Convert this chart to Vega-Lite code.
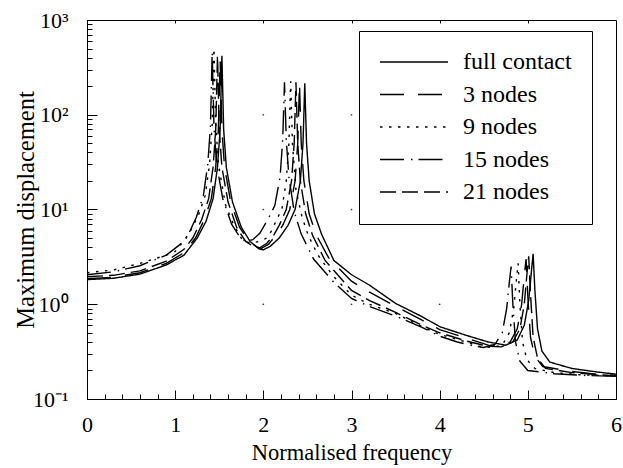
{
  "$schema": "https://vega.github.io/schema/vega-lite/v6.json",
  "width": 529,
  "height": 379,
  "autosize": {"type": "none"},
  "padding": {"left": 87, "top": 20, "right": 7, "bottom": 69},
  "background": "white",
  "config": {
    "view": {"stroke": "black", "strokeWidth": 1},
    "font": "Liberation Serif",
    "axis": {"labelFont": "Liberation Serif", "titleFont": "Liberation Serif", "labelColor": "black", "titleColor": "black", "domainColor": "black", "tickColor": "black", "titleFontWeight": "normal", "labelFontSize": 22, "titleFontSize": 22, "grid": false}
  },
  "datasets": {
    "curves": [
      {"series":"full contact","freq":0,"disp":1.82},{"series":"full contact","freq":0.3,"disp":1.88},{"series":"full contact","freq":0.6,"disp":2.08},{"series":"full contact","freq":0.9,"disp":2.6},{"series":"full contact","freq":1.1,"disp":3.3},{"series":"full contact","freq":1.25,"disp":5.0},{"series":"full contact","freq":1.35,"disp":7.5},{"series":"full contact","freq":1.43,"disp":13},{"series":"full contact","freq":1.48,"disp":28},{"series":"full contact","freq":1.51,"disp":70},{"series":"full contact","freq":1.53,"disp":420},{"series":"full contact","freq":1.55,"disp":70},{"series":"full contact","freq":1.58,"disp":28},{"series":"full contact","freq":1.65,"disp":12},{"series":"full contact","freq":1.75,"disp":6.5},{"series":"full contact","freq":1.85,"disp":4.6},{"series":"full contact","freq":1.95,"disp":3.85},{"series":"full contact","freq":2.0,"disp":3.75},{"series":"full contact","freq":2.08,"disp":4.1},{"series":"full contact","freq":2.18,"disp":5.0},{"series":"full contact","freq":2.28,"disp":6.8},{"series":"full contact","freq":2.36,"disp":10},{"series":"full contact","freq":2.42,"disp":20},{"series":"full contact","freq":2.45,"disp":50},{"series":"full contact","freq":2.47,"disp":215},{"series":"full contact","freq":2.49,"disp":50},{"series":"full contact","freq":2.52,"disp":20},{"series":"full contact","freq":2.58,"disp":9},{"series":"full contact","freq":2.66,"disp":5.5},{"series":"full contact","freq":2.8,"disp":2.9},{"series":"full contact","freq":3.0,"disp":2.05},{"series":"full contact","freq":3.2,"disp":1.6},{"series":"full contact","freq":3.5,"disp":1.02},{"series":"full contact","freq":3.8,"disp":0.74},{"series":"full contact","freq":4.0,"disp":0.58},{"series":"full contact","freq":4.3,"disp":0.47},{"series":"full contact","freq":4.55,"disp":0.4},{"series":"full contact","freq":4.75,"disp":0.37},{"series":"full contact","freq":4.88,"disp":0.42},{"series":"full contact","freq":4.96,"disp":0.6},{"series":"full contact","freq":5.01,"disp":1.1},{"series":"full contact","freq":5.04,"disp":2.2},{"series":"full contact","freq":5.06,"disp":3.4},{"series":"full contact","freq":5.08,"disp":1.4},{"series":"full contact","freq":5.11,"disp":0.55},{"series":"full contact","freq":5.16,"disp":0.32},{"series":"full contact","freq":5.25,"disp":0.245},{"series":"full contact","freq":5.5,"disp":0.21},{"series":"full contact","freq":5.8,"disp":0.192},{"series":"full contact","freq":6.0,"disp":0.183},

      {"series":"3 nodes","freq":0,"disp":1.86},{"series":"3 nodes","freq":0.3,"disp":1.93},{"series":"3 nodes","freq":0.6,"disp":2.15},{"series":"3 nodes","freq":0.9,"disp":2.7},{"series":"3 nodes","freq":1.1,"disp":3.5},{"series":"3 nodes","freq":1.23,"disp":5.0},{"series":"3 nodes","freq":1.33,"disp":7.8},{"series":"3 nodes","freq":1.41,"disp":13},{"series":"3 nodes","freq":1.46,"disp":28},{"series":"3 nodes","freq":1.49,"disp":70},{"series":"3 nodes","freq":1.51,"disp":380},{"series":"3 nodes","freq":1.53,"disp":70},{"series":"3 nodes","freq":1.56,"disp":28},{"series":"3 nodes","freq":1.63,"disp":12},{"series":"3 nodes","freq":1.73,"disp":6.5},{"series":"3 nodes","freq":1.83,"disp":4.7},{"series":"3 nodes","freq":1.93,"disp":4.0},{"series":"3 nodes","freq":1.98,"disp":3.9},{"series":"3 nodes","freq":2.06,"disp":4.3},{"series":"3 nodes","freq":2.14,"disp":5.3},{"series":"3 nodes","freq":2.22,"disp":6.8},{"series":"3 nodes","freq":2.3,"disp":10},{"series":"3 nodes","freq":2.36,"disp":20},{"series":"3 nodes","freq":2.39,"disp":50},{"series":"3 nodes","freq":2.41,"disp":215},{"series":"3 nodes","freq":2.43,"disp":50},{"series":"3 nodes","freq":2.46,"disp":20},{"series":"3 nodes","freq":2.52,"disp":9},{"series":"3 nodes","freq":2.6,"disp":5.4},{"series":"3 nodes","freq":2.74,"disp":3.1},{"series":"3 nodes","freq":3.0,"disp":1.75},{"series":"3 nodes","freq":3.2,"disp":1.35},{"series":"3 nodes","freq":3.5,"disp":0.95},{"series":"3 nodes","freq":3.8,"disp":0.68},{"series":"3 nodes","freq":4.0,"disp":0.54},{"series":"3 nodes","freq":4.3,"disp":0.44},{"series":"3 nodes","freq":4.55,"disp":0.37},{"series":"3 nodes","freq":4.67,"disp":0.36},{"series":"3 nodes","freq":4.8,"disp":0.4},{"series":"3 nodes","freq":4.88,"disp":0.55},{"series":"3 nodes","freq":4.93,"disp":1.0},{"series":"3 nodes","freq":4.96,"disp":2.0},{"series":"3 nodes","freq":4.98,"disp":3.0},{"series":"3 nodes","freq":5.0,"disp":1.2},{"series":"3 nodes","freq":5.03,"disp":0.45},{"series":"3 nodes","freq":5.08,"disp":0.28},{"series":"3 nodes","freq":5.17,"disp":0.22},{"series":"3 nodes","freq":5.5,"disp":0.195},{"series":"3 nodes","freq":5.8,"disp":0.182},{"series":"3 nodes","freq":6.0,"disp":0.178},

      {"series":"9 nodes","freq":0,"disp":2.15},{"series":"9 nodes","freq":0.3,"disp":2.3},{"series":"9 nodes","freq":0.6,"disp":2.7},{"series":"9 nodes","freq":0.9,"disp":3.3},{"series":"9 nodes","freq":1.0,"disp":3.6},{"series":"9 nodes","freq":1.16,"disp":5.6},{"series":"9 nodes","freq":1.26,"disp":8.5},{"series":"9 nodes","freq":1.34,"disp":14},{"series":"9 nodes","freq":1.39,"disp":30},{"series":"9 nodes","freq":1.42,"disp":80},{"series":"9 nodes","freq":1.44,"disp":500},{"series":"9 nodes","freq":1.46,"disp":80},{"series":"9 nodes","freq":1.49,"disp":30},{"series":"9 nodes","freq":1.57,"disp":11.3},{"series":"9 nodes","freq":1.66,"disp":7},{"series":"9 nodes","freq":1.76,"disp":4.8},{"series":"9 nodes","freq":1.85,"disp":4.4},{"series":"9 nodes","freq":1.95,"disp":4.6},{"series":"9 nodes","freq":2.04,"disp":5.0},{"series":"9 nodes","freq":2.1,"disp":6.1},{"series":"9 nodes","freq":2.15,"disp":7.8},{"series":"9 nodes","freq":2.21,"disp":10},{"series":"9 nodes","freq":2.26,"disp":20},{"series":"9 nodes","freq":2.29,"disp":50},{"series":"9 nodes","freq":2.31,"disp":225},{"series":"9 nodes","freq":2.33,"disp":50},{"series":"9 nodes","freq":2.37,"disp":16},{"series":"9 nodes","freq":2.44,"disp":8.3},{"series":"9 nodes","freq":2.51,"disp":5.3},{"series":"9 nodes","freq":2.62,"disp":3.3},{"series":"9 nodes","freq":2.7,"disp":2.6},{"series":"9 nodes","freq":2.8,"disp":1.95},{"series":"9 nodes","freq":3.0,"disp":1.25},{"series":"9 nodes","freq":3.2,"disp":1.0},{"series":"9 nodes","freq":3.5,"disp":0.8},{"series":"9 nodes","freq":3.8,"disp":0.58},{"series":"9 nodes","freq":4.0,"disp":0.48},{"series":"9 nodes","freq":4.3,"disp":0.4},{"series":"9 nodes","freq":4.45,"disp":0.36},{"series":"9 nodes","freq":4.58,"disp":0.35},{"series":"9 nodes","freq":4.71,"disp":0.37},{"series":"9 nodes","freq":4.79,"disp":0.5},{"series":"9 nodes","freq":4.84,"disp":0.9},{"series":"9 nodes","freq":4.87,"disp":1.8},{"series":"9 nodes","freq":4.89,"disp":2.7},{"series":"9 nodes","freq":4.91,"disp":1.0},{"series":"9 nodes","freq":4.94,"disp":0.4},{"series":"9 nodes","freq":4.99,"disp":0.26},{"series":"9 nodes","freq":5.08,"disp":0.21},{"series":"9 nodes","freq":5.3,"disp":0.19},{"series":"9 nodes","freq":5.6,"disp":0.18},{"series":"9 nodes","freq":6.0,"disp":0.175},

      {"series":"15 nodes","freq":0,"disp":2.05},{"series":"15 nodes","freq":0.3,"disp":2.2},{"series":"15 nodes","freq":0.6,"disp":2.55},{"series":"15 nodes","freq":0.9,"disp":3.3},{"series":"15 nodes","freq":1.1,"disp":4.6},{"series":"15 nodes","freq":1.14,"disp":5.2},{"series":"15 nodes","freq":1.24,"disp":8.3},{"series":"15 nodes","freq":1.32,"disp":14},{"series":"15 nodes","freq":1.37,"disp":30},{"series":"15 nodes","freq":1.4,"disp":75},{"series":"15 nodes","freq":1.42,"disp":460},{"series":"15 nodes","freq":1.44,"disp":75},{"series":"15 nodes","freq":1.47,"disp":30},{"series":"15 nodes","freq":1.54,"disp":13},{"series":"15 nodes","freq":1.64,"disp":7.0},{"series":"15 nodes","freq":1.74,"disp":5.0},{"series":"15 nodes","freq":1.8,"disp":4.6},{"series":"15 nodes","freq":1.88,"disp":4.8},{"series":"15 nodes","freq":1.96,"disp":5.6},{"series":"15 nodes","freq":2.05,"disp":7.8},{"series":"15 nodes","freq":2.13,"disp":11},{"series":"15 nodes","freq":2.19,"disp":22},{"series":"15 nodes","freq":2.22,"disp":55},{"series":"15 nodes","freq":2.24,"disp":220},{"series":"15 nodes","freq":2.26,"disp":55},{"series":"15 nodes","freq":2.29,"disp":22},{"series":"15 nodes","freq":2.35,"disp":9.5},{"series":"15 nodes","freq":2.43,"disp":5.5},{"series":"15 nodes","freq":2.57,"disp":3.0},{"series":"15 nodes","freq":2.8,"disp":1.7},{"series":"15 nodes","freq":3.0,"disp":1.15},{"series":"15 nodes","freq":3.2,"disp":0.95},{"series":"15 nodes","freq":3.5,"disp":0.75},{"series":"15 nodes","freq":3.8,"disp":0.57},{"series":"15 nodes","freq":4.0,"disp":0.46},{"series":"15 nodes","freq":4.2,"disp":0.4},{"series":"15 nodes","freq":4.4,"disp":0.36},{"series":"15 nodes","freq":4.5,"disp":0.35},{"series":"15 nodes","freq":4.63,"disp":0.38},{"series":"15 nodes","freq":4.71,"disp":0.5},{"series":"15 nodes","freq":4.76,"disp":0.9},{"series":"15 nodes","freq":4.79,"disp":1.7},{"series":"15 nodes","freq":4.81,"disp":2.5},{"series":"15 nodes","freq":4.83,"disp":1.0},{"series":"15 nodes","freq":4.86,"disp":0.4},{"series":"15 nodes","freq":4.91,"disp":0.25},{"series":"15 nodes","freq":5.0,"disp":0.2},{"series":"15 nodes","freq":5.3,"disp":0.185},{"series":"15 nodes","freq":5.6,"disp":0.178},{"series":"15 nodes","freq":6.0,"disp":0.173},

      {"series":"21 nodes","freq":0,"disp":1.95},{"series":"21 nodes","freq":0.3,"disp":2.02},{"series":"21 nodes","freq":0.6,"disp":2.25},{"series":"21 nodes","freq":0.9,"disp":2.85},{"series":"21 nodes","freq":1.1,"disp":3.8},{"series":"21 nodes","freq":1.2,"disp":5.0},{"series":"21 nodes","freq":1.3,"disp":7.8},{"series":"21 nodes","freq":1.38,"disp":13},{"series":"21 nodes","freq":1.43,"disp":28},{"series":"21 nodes","freq":1.46,"disp":70},{"series":"21 nodes","freq":1.48,"disp":420},{"series":"21 nodes","freq":1.5,"disp":70},{"series":"21 nodes","freq":1.53,"disp":28},{"series":"21 nodes","freq":1.6,"disp":12},{"series":"21 nodes","freq":1.7,"disp":6.4},{"series":"21 nodes","freq":1.8,"disp":4.6},{"series":"21 nodes","freq":1.9,"disp":4.0},{"series":"21 nodes","freq":1.96,"disp":3.95},{"series":"21 nodes","freq":2.04,"disp":4.4},{"series":"21 nodes","freq":2.12,"disp":5.4},{"series":"21 nodes","freq":2.18,"disp":6.8},{"series":"21 nodes","freq":2.26,"disp":10},{"series":"21 nodes","freq":2.32,"disp":20},{"series":"21 nodes","freq":2.35,"disp":50},{"series":"21 nodes","freq":2.37,"disp":220},{"series":"21 nodes","freq":2.39,"disp":50},{"series":"21 nodes","freq":2.42,"disp":20},{"series":"21 nodes","freq":2.48,"disp":9},{"series":"21 nodes","freq":2.56,"disp":5.3},{"series":"21 nodes","freq":2.7,"disp":2.9},{"series":"21 nodes","freq":3.0,"disp":1.4},{"series":"21 nodes","freq":3.2,"disp":1.1},{"series":"21 nodes","freq":3.5,"disp":0.82},{"series":"21 nodes","freq":3.8,"disp":0.6},{"series":"21 nodes","freq":4.0,"disp":0.5},{"series":"21 nodes","freq":4.3,"disp":0.41},{"series":"21 nodes","freq":4.55,"disp":0.36},{"series":"21 nodes","freq":4.7,"disp":0.355},{"series":"21 nodes","freq":4.83,"disp":0.4},{"series":"21 nodes","freq":4.91,"disp":0.55},{"series":"21 nodes","freq":4.96,"disp":1.0},{"series":"21 nodes","freq":4.99,"disp":2.1},{"series":"21 nodes","freq":5.01,"disp":3.2},{"series":"21 nodes","freq":5.03,"disp":1.3},{"series":"21 nodes","freq":5.06,"disp":0.45},{"series":"21 nodes","freq":5.11,"disp":0.27},{"series":"21 nodes","freq":5.2,"disp":0.21},{"series":"21 nodes","freq":5.5,"disp":0.19},{"series":"21 nodes","freq":5.8,"disp":0.18},{"series":"21 nodes","freq":6.0,"disp":0.176}
    ],
    "dots": [
      {"freq":2,"disp":1},{"freq":2,"disp":10},{"freq":2,"disp":100},{"freq":3,"disp":1},{"freq":3,"disp":10},{"freq":3,"disp":100},{"freq":4,"disp":1}
    ]
  },
  "layer": [
    {
      "data": {"name": "curves"},
      "mark": {"type": "line", "color": "black", "strokeCap": "butt", "clip": true},
      "encoding": {
        "x": {"field": "freq", "type": "quantitative", "scale": {"domain": [0, 6], "nice": false, "zero": false},
          "axis": {"orient": "bottom", "title": "Normalised frequency", "titlePadding": 2, "titleFontSize": 22.5,
            "values": [0,0.2,0.4,0.6,0.8,1,1.2,1.4,1.6,1.8,2,2.2,2.4,2.6,2.8,3,3.2,3.4,3.6,3.8,4,4.2,4.4,4.6,4.8,5,5.2,5.4,5.6,5.8,6],
            "labelExpr": "datum.value % 1 == 0 ? format(datum.value, 'd') : ''",
            "labelOverlap": false, "labelFlush": false, "labelPadding": 24,
            "tickSize": {"condition": {"test": "datum.value % 1 == 0", "value": -9}, "value": -5},
            "tickWidth": 1}},
        "y": {"field": "disp", "type": "quantitative", "scale": {"type": "log", "domain": [0.1, 1000], "nice": false},
          "axis": {"orient": "left", "title": "Maximum displacement", "titlePadding": -6, "titleFontSize": 24.5,
            "values": [0.1,0.2,0.3,0.4,0.5,0.6,0.7,0.8,0.9,1,2,3,4,5,6,7,8,9,10,20,30,40,50,60,70,80,90,100,200,300,400,500,600,700,800,900,1000],
            "labelExpr": "indexof([0.1,1,10,100,1000], datum.value) >= 0 ? ['10⁻¹','10⁰','10¹','10²','10³'][indexof([0.1,1,10,100,1000], datum.value)] : ''",
            "labelOverlap": false, "labelPadding": 29,
            "tickSize": {"condition": {"test": "indexof([0.1,1,10,100,1000], datum.value) >= 0", "value": -10}, "value": -5},
            "tickWidth": 1}},
        "strokeDash": {"field": "series", "type": "nominal",
          "scale": {"domain": ["full contact", "3 nodes", "9 nodes", "15 nodes", "21 nodes"],
            "range": [[1, 0], [24, 14], [2.5, 6.5], [24, 7, 1.5, 6], [16, 6]]},
          "legend": {"title": null, "orient": "none", "legendX": 272, "legendY": 11,
            "strokeColor": "black", "fillColor": "white", "padding": 20,
            "symbolType": "stroke", "symbolSize": 4624, "symbolStrokeColor": "black",
            "clipHeight": 22, "rowPadding": 8.5, "labelOffset": 14,
            "labelFont": "Liberation Serif", "labelFontSize": 24, "labelColor": "black"}},
        "strokeWidth": {"field": "series", "type": "nominal",
          "scale": {"domain": ["full contact", "3 nodes", "9 nodes", "15 nodes", "21 nodes"],
            "range": [1.4, 1.4, 2.5, 1.4, 2.4]},
          "legend": {"title": null, "orient": "none", "legendX": 272, "legendY": 11,
            "strokeColor": "black", "fillColor": "white", "padding": 20,
            "symbolType": "stroke", "symbolSize": 4624, "symbolStrokeColor": "black",
            "clipHeight": 22, "rowPadding": 8.5, "labelOffset": 14,
            "labelFont": "Liberation Serif", "labelFontSize": 24, "labelColor": "black"}}
      }
    },
    {
      "data": {"name": "dots"},
      "mark": {"type": "point", "filled": true, "size": 3, "color": "black", "opacity": 0.8},
      "encoding": {
        "x": {"field": "freq", "type": "quantitative", "scale": {"domain": [0, 6], "nice": false, "zero": false},
          "axis": {"orient": "top", "labels": false, "domain": false, "title": null, "values": [1, 2, 3, 4, 5], "tickSize": -3, "tickWidth": 1}},
        "y": {"field": "disp", "type": "quantitative", "scale": {"type": "log", "domain": [0.1, 1000], "nice": false}}
      }
    }
  ],
  "resolve": {"axis": {"x": "independent"}}
}
